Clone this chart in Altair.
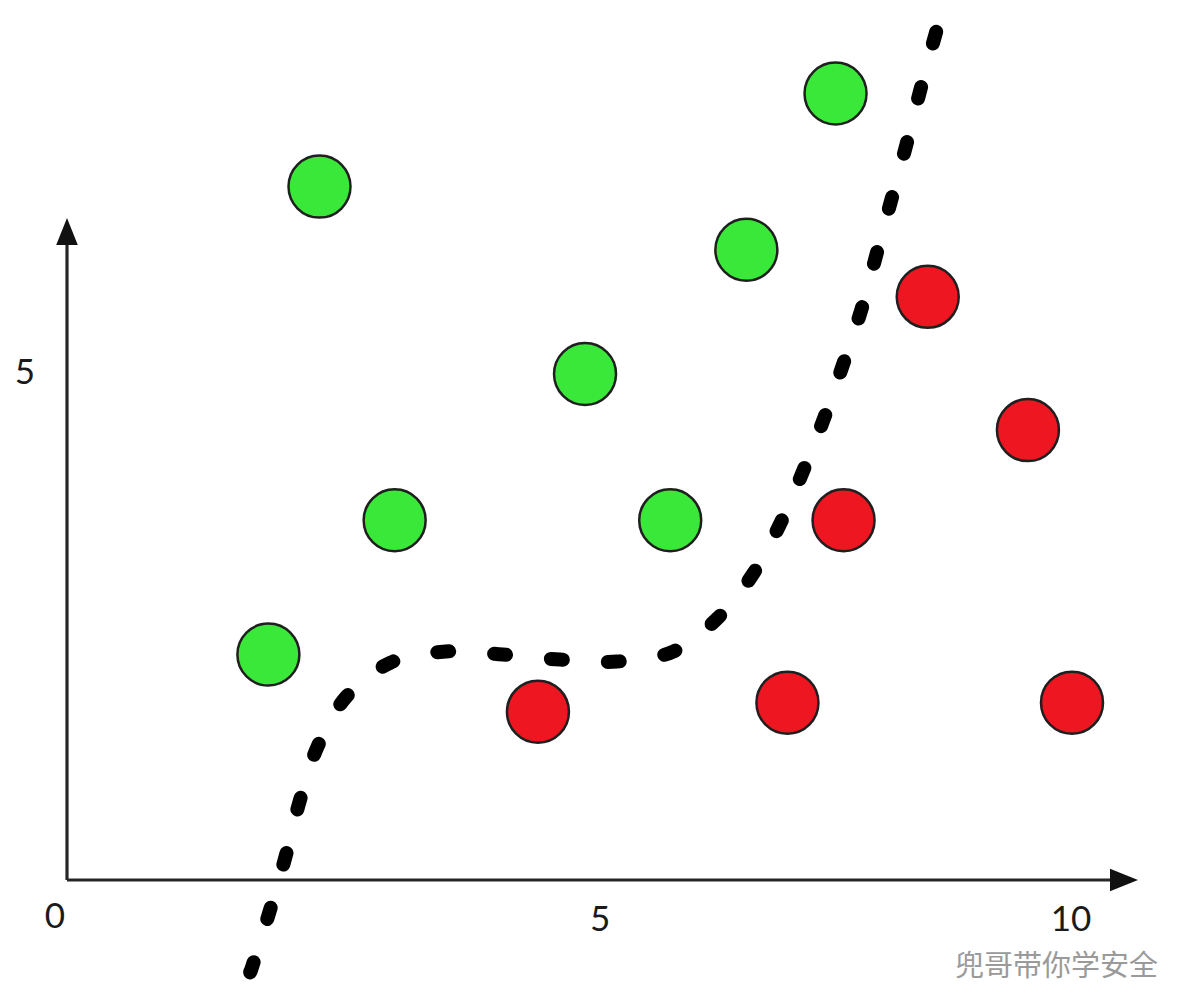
import altair as alt
import pandas as pd

# --- sample points (two classes) ---
green_x = [2.52, 3.27, 2.01, 5.17, 6.02, 6.78, 7.67]
green_y = [6.92, 3.59, 2.25, 5.05, 3.59, 6.29, 7.85]
red_x = [4.70, 7.19, 7.75, 8.59, 9.59, 10.03]
red_y = [1.68, 1.77, 3.59, 5.82, 4.49, 1.77]

# --- decision boundary (dashed curve) ---
curve_x = [1.83, 1.85, 2.02, 2.18, 2.32, 2.50, 2.78, 3.23, 3.78, 4.35, 4.92,
           5.49, 6.05, 6.50, 6.85, 7.12, 7.35, 7.56, 7.75, 7.93, 8.08, 8.23,
           8.38, 8.52, 8.67, 8.69]
curve_y = [-0.91, -0.86, -0.32, 0.23, 0.78, 1.33, 1.82, 2.17, 2.28, 2.25, 2.20,
           2.18, 2.28, 2.62, 3.06, 3.56, 4.09, 4.62, 5.16, 5.70, 6.25, 6.80,
           7.35, 7.90, 8.45, 8.51]

# --- axis tick labels ---
tick_text = ["0", "5", "10", "5"]
tick_x = [-0.12, 5.32, 10.02, -0.42]
tick_y = [-0.37, -0.40, -0.40, 5.06]

watermark = "兜哥带你学安全"

# layout: origin of the drawing inside the 1188x1000 canvas, pixels per unit
W, H = 1188, 1000
OX, OY, PPU = 67, 880, 100.2
xdom = [-OX / PPU, (W - OX) / PPU]
ydom = [(OY - H) / PPU, OY / PPU]

xs = alt.Scale(domain=xdom, nice=False, zero=False)
ys = alt.Scale(domain=ydom, nice=False, zero=False)
X = lambda f: alt.X(f, type="quantitative", scale=xs, axis=None)
Y = lambda f: alt.Y(f, type="quantitative", scale=ys, axis=None)

pts = pd.DataFrame({
    "x": green_x + red_x,
    "y": green_y + red_y,
    "cls": ["green"] * len(green_x) + ["red"] * len(red_x),
})
curve = pd.DataFrame({"x": curve_x, "y": curve_y, "i": range(len(curve_x))})
ticks = pd.DataFrame({"t": tick_text, "x": tick_x, "y": tick_y})

y_top = (OY - 240) / PPU
x_right = (1112 - OX) / PPU
axes_df = pd.DataFrame({"x": [0.0, 0.0], "y": [0.0, 0.0],
                        "x2": [0.0, x_right], "y2": [y_top, 0.0]})

axis_lines = alt.Chart(axes_df).mark_rule(color="#262626", strokeWidth=3.2).encode(
    x=X("x"), y=Y("y"), x2="x2", y2="y2")

arrow_up = alt.Chart(pd.DataFrame({"x": [0.0], "y": [(OY - 231.5) / PPU]})).mark_point(
    shape="M-0.8,1L0,-1L0.8,1Z", size=27 * 27, filled=True, color="#111", opacity=1
).encode(x=X("x"), y=Y("y"))

arrow_right = alt.Chart(pd.DataFrame({"x": [(1124 - OX) / PPU], "y": [0.0]})).mark_point(
    shape="M-1,-0.8L1,0L-1,0.8Z", size=28 * 28, filled=True, color="#111", opacity=1
).encode(x=X("x"), y=Y("y"))

boundary = alt.Chart(curve).mark_line(
    color="black", strokeWidth=14, strokeCap="round", strokeDash=[12, 45],
    interpolate="cardinal"
).encode(x=X("x"), y=Y("y"), order="i:Q")

# circle symbols: sqrt(size) is the diameter in pixels
dots = alt.Chart(pts).mark_circle(
    size=62 * 62, opacity=1, stroke="#1f1f1f", strokeWidth=2.5
).encode(
    x=X("x"), y=Y("y"),
    color=alt.Color("cls:N", scale=alt.Scale(domain=["green", "red"],
                                              range=["#3ae83a", "#ee1620"]),
                    legend=None),
)

labels = alt.Chart(ticks).mark_text(
    font="Lato", fontSize=35, color="#1a1a1a", align="center", baseline="middle"
).encode(x=X("x"), y=Y("y"), text="t:N")

mark_text = alt.Chart(pd.DataFrame({"t": [watermark], "x": [(955 - OX) / PPU],
                                    "y": [(OY - 967) / PPU]})).mark_text(
    font="Noto Sans CJK SC", fontSize=29, color="#9a9a9a", align="left",
    baseline="middle"
).encode(x=X("x"), y=Y("y"), text="t:N")

chart = alt.layer(axis_lines, arrow_up, arrow_right, boundary, dots, labels,
                  mark_text).properties(
    width=W, height=H, padding=0, autosize=alt.AutoSizeParams(type="none"),
    background="white"
).configure_view(stroke=None)

chart.save("out.html", embed_options={"renderer": "svg", "actions": False})
